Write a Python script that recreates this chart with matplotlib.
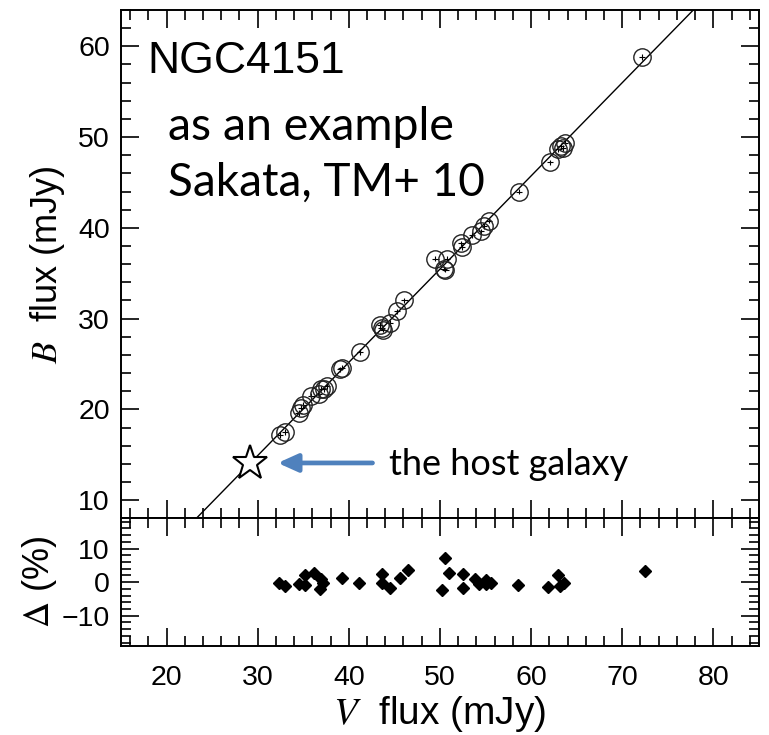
import numpy as np
import matplotlib
matplotlib.use('Agg')
import matplotlib.pyplot as plt
from matplotlib.ticker import MultipleLocator

plt.rcParams['font.family'] = ['Liberation Sans', 'DejaVu Sans']
plt.rcParams['mathtext.fontset'] = 'stix'

# V vs B flux points (mJy)
v_flux = [32.45, 33.0, 34.5, 34.8, 35.0, 35.9, 36.7, 37.0, 37.6, 37.3,
          39.2, 39.0, 41.2, 43.4, 43.6, 43.8, 44.5, 45.3, 46.1, 49.5,
          50.4, 50.6, 50.8, 52.3, 52.4, 53.5, 54.5, 54.8, 55.4, 58.7,
          62.1, 63.0, 63.3, 63.7, 63.5, 72.2]
b_flux = [17.2, 17.5, 19.6, 20.2, 20.5, 21.5, 21.7, 22.3, 22.6, 22.2,
          24.6, 24.4, 26.3, 29.3, 29.0, 28.8, 29.5, 30.8, 32.0, 36.6,
          35.5, 35.4, 36.6, 38.3, 37.9, 39.2, 39.6, 40.2, 40.8, 44.0,
          47.2, 48.7, 49.0, 49.4, 48.8, 58.8]
v_err = 0.35
b_err = 0.3

# residuals (%), lower panel
res_v = [32.3, 33.0, 34.5, 35.2, 35.2, 36.2, 37.0, 37.2, 36.8, 39.3,
         41.1, 43.6, 43.6, 44.5, 45.6, 46.5, 50.6, 51.0, 50.2, 52.5,
         52.5, 53.9, 54.3, 55.1, 55.0, 55.6, 58.6, 61.9, 63.0, 63.2,
         63.6, 72.5]
res_d = [-0.2, -1.0, -0.4, 2.0, -0.7, 2.6, 1.0, -0.2, -2.0, 1.1,
         -0.2, 2.5, -0.2, -1.7, 1.1, 3.5, 7.3, 2.8, -2.2, 2.5,
         -1.7, 1.0, -0.4, 0.6, -0.4, -0.2, -0.7, -1.4, 2.0, -1.2,
         -0.2, 3.2]

# host galaxy and linear fit
host_v, host_b = 29.16, 14.1
fit_slope, fit_icpt = 1.027, -15.9

fig = plt.figure(figsize=(7.69, 7.35), dpi=100)
ax = fig.add_axes([0.1573, 0.2948, 0.8296, 0.6916])
ax2 = fig.add_axes([0.1573, 0.1211, 0.8296, 0.1737])

xx = np.array([15, 85])
ax.plot(xx, fit_slope * xx + fit_icpt, color='k', lw=1)
ax.errorbar(v_flux, b_flux, xerr=v_err, yerr=b_err, fmt='none', ecolor='k', elinewidth=0.8)
ax.plot(v_flux, b_flux, 'o', ms=12.5, mfc='none', mec='#222222', mew=1.0)
ax.plot(host_v, host_b, '*', ms=26, mfc='white', mec='k', mew=1.5)

ax.annotate('', xy=(32.2, host_b), xytext=(42.6, host_b),
            arrowprops=dict(arrowstyle='-|>,head_length=0.4,head_width=0.18',
                            mutation_scale=30, lw=3.4, color='#4f81bd',
                            shrinkA=0, shrinkB=0))

ax.text(0.042, 0.898, 'NGC4151', transform=ax.transAxes, fontsize=32, va='center')
cal = ['Lato', 'DejaVu Sans']
ax.text(0.074, 0.770, 'as an example', transform=ax.transAxes, fontsize=33.5,
        va='center', family=cal)
ax.text(0.074, 0.660, 'Sakata, TM+ 10', transform=ax.transAxes, fontsize=33,
        va='center', family=cal)
ax.text(0.42, 0.105, 'the host galaxy', transform=ax.transAxes, fontsize=26,
        va='center', family=cal)

ax2.plot(res_v, res_d, 'D', color='k', ms=6.5)

for a in (ax, ax2):
    a.set_xlim(15, 85)
    a.xaxis.set_major_locator(MultipleLocator(10))
    a.xaxis.set_minor_locator(MultipleLocator(2))
    a.yaxis.set_major_locator(MultipleLocator(10))
    a.yaxis.set_minor_locator(MultipleLocator(2))
    a.tick_params(which='both', direction='in', top=True, right=True, width=1.2,
                  labelsize=20.5, pad=8)
    a.tick_params(which='major', length=13)
    a.tick_params(which='minor', length=7)
    for s in a.spines.values():
        s.set_linewidth(1.4)

ax.set_ylim(8, 64)
ax.tick_params(labelbottom=False)
ax2.set_ylim(-19, 19)
ax2.set_yticks([-10, 0, 10])
ax2.set_yticklabels(['\u221210', '0', '10'])
ax2.tick_params(axis='x', pad=14)

ax.set_ylabel(r'$B$  flux (mJy)', fontsize=26, labelpad=8)
ax2.set_ylabel(r'$\Delta$ (%)', fontsize=26, labelpad=2)
ax2.set_xlabel(r'$V$  flux (mJy)', fontsize=28, labelpad=2)
fig.align_ylabels([ax, ax2])

fig.savefig('out.png', dpi=100)
